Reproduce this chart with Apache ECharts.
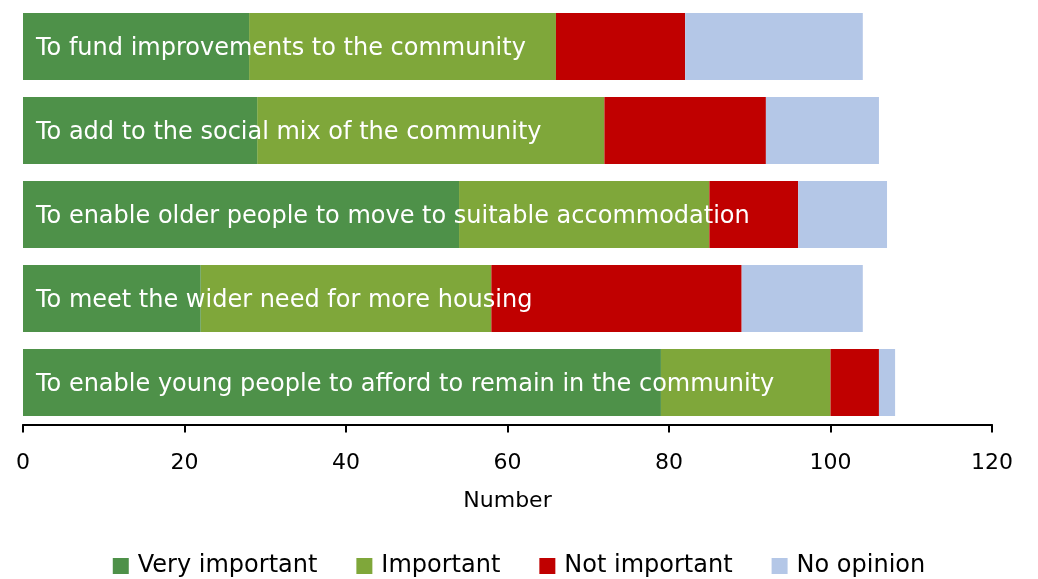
<!DOCTYPE html>
<html>
<head>
<meta charset="utf-8">
<style>
  html, body { margin: 0; padding: 0; background: #fff; }
  #chart { width: 1038px; height: 579px; }
</style>
<script src="https://cdn.jsdelivr.net/npm/echarts@6/dist/echarts.min.js"></script>
</head>
<body>
<div id="chart"></div>
<script>
// Reasons, listed top to bottom
const categories = [
  'To fund improvements to the community',
  'To add to the social mix of the community',
  'To enable older people to move to suitable accommodation',
  'To meet the wider need for more housing',
  'To enable young people to afford to remain in the community'
];
const veryImportant = [28, 29, 54, 22, 79];
const important     = [38, 43, 31, 36, 21];
const notImportant  = [16, 20, 11, 31, 6];
const noOpinion     = [22, 14, 11, 15, 2];
const seriesNames = ['Very important', 'Important', 'Not important', 'No opinion'];
const colors = ['#4e9149', '#7fa73a', '#c00000', '#b4c7e7'];
const FONT = 'DejaVu Sans';

const values = [veryImportant, important, notImportant, noOpinion];

const chart = echarts.init(document.getElementById('chart'), null, { renderer: 'canvas' });

// The category name sits inside the first segment and runs across the rest
const series = values.map((data, i) => ({
  name: seriesNames[i],
  type: 'bar',
  stack: 'total',
  barWidth: 67,
  data: data,
  z: i === 0 ? 5 : 2,
  itemStyle: { color: colors[i] },
  emphasis: { disabled: true },
  label: i === 0 ? {
    show: true,
    position: 'insideLeft',
    distance: 13,
    offset: [0, 2],
    formatter: '{b}',
    color: '#ffffff',
    fontFamily: FONT,
    fontSize: 24
  } : { show: false }
}));

chart.setOption({
  animation: false,
  grid: { left: 23, right: 46, top: 4.5, bottom: 154.5 },
  legend: {
    top: 554,
    left: 'center',
    padding: 0,
    itemWidth: 16,
    itemHeight: 16,
    itemGap: 39,
    icon: 'rect',
    textStyle: { fontFamily: FONT, fontSize: 24, color: '#000', padding: [0, 0, 0, 4] },
    data: seriesNames
  },
  xAxis: {
    type: 'value',
    min: 0,
    max: 120,
    interval: 20,
    name: 'Number',
    nameLocation: 'middle',
    nameGap: 66,
    nameTextStyle: { fontFamily: FONT, fontSize: 22, color: '#000' },
    axisLine: { show: true, lineStyle: { color: '#000', width: 2 } },
    axisTick: { show: true, length: 8, lineStyle: { color: '#000', width: 2 } },
    axisLabel: { fontFamily: FONT, fontSize: 22, color: '#000', margin: 28 },
    splitLine: { show: false }
  },
  yAxis: {
    type: 'category',
    inverse: true,
    data: categories,
    axisLine: { show: false },
    axisTick: { show: false },
    axisLabel: { show: false }
  },
  series: series
});
</script>
</body>
</html>
